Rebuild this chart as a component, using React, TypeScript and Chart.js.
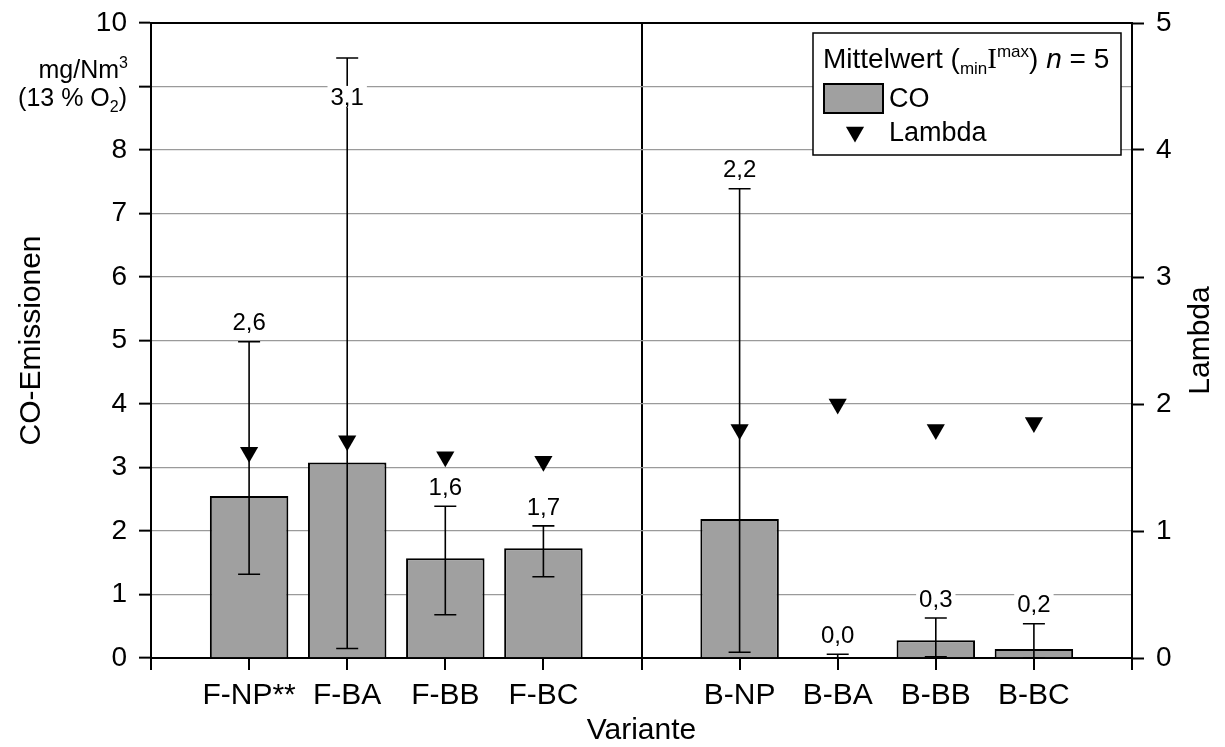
import React, { useEffect, useRef } from "react";
import { Chart, registerables } from "chart.js";

Chart.register(...registerables);

// ---------- data ----------
const categories = ["", "F-NP**", "F-BA", "F-BB", "F-BC", "", "B-NP", "B-BA", "B-BB", "B-BC", ""];
const coMean = [null, 2.55, 3.08, 1.57, 1.73, null, 2.19, 0.01, 0.28, 0.14, null];
const coMin = [null, 1.32, 0.15, 0.68, 1.28, null, 0.09, 0.0, 0.02, 0.0, null];
const coMax = [null, 4.98, 9.45, 2.39, 2.08, null, 7.39, 0.06, 0.63, 0.54, null];
const coLabels = [null, "2,6", "3,1", "1,6", "1,7", null, "2,2", "0,0", "0,3", "0,2", null];
const lambda = [null, 1.62, 1.71, 1.585, 1.55, null, 1.80, 2.0, 1.80, 1.855, null];
const separatorIndex = 5;
const hiddenLeftTick = 9;

const FONT = "'Liberation Sans', Arial, sans-serif";
const BAR_FILL = "#a0a0a0";
const GRID = "#9a9a9a";

const errorBarPlugin = {
  id: "errorBars",
  afterDatasetsDraw(chart: any) {
    const { ctx } = chart;
    const x = chart.scales.x;
    const y = chart.scales.y;
    ctx.save();
    ctx.strokeStyle = "#000";
    ctx.lineWidth = 1.6;
    const cap = 11;
    coMax.forEach((mx, i) => {
      if (mx == null) return;
      const px = x.getPixelForValue(i);
      const yMax = y.getPixelForValue(mx);
      const yMin = y.getPixelForValue(coMin[i] as number);
      ctx.beginPath();
      ctx.moveTo(px, yMax);
      ctx.lineTo(px, yMin);
      ctx.moveTo(px - cap, yMax);
      ctx.lineTo(px + cap, yMax);
      ctx.moveTo(px - cap, yMin);
      ctx.lineTo(px + cap, yMin);
      ctx.stroke();
    });
    ctx.font = `24px ${FONT}`;
    ctx.textAlign = "center";
    ctx.textBaseline = "middle";
    coLabels.forEach((lab, i) => {
      if (!lab) return;
      const px = x.getPixelForValue(i);
      const mx = coMax[i] as number;
      const yMax = y.getPixelForValue(mx);
      const cy = mx > 9 ? yMax + 39 : yMax - 19;
      const w = ctx.measureText(lab).width;
      ctx.fillStyle = "#fff";
      ctx.fillRect(px - w / 2 - 3, cy - 11, w + 6, 22);
      ctx.fillStyle = "#000";
      ctx.fillText(lab, px, cy + 1);
    });
    ctx.restore();
  },
};

function drawRich(ctx: any, parts: any[], x: number, y: number, align: "left" | "right") {
  const widths = parts.map((p) => {
    ctx.font = `${p.italic ? "italic " : ""}${p.size}px ${p.family || FONT}`;
    return ctx.measureText(p.text).width;
  });
  const total = widths.reduce((a, b) => a + b, 0);
  let cx = align === "right" ? x - total : x;
  ctx.textAlign = "left";
  ctx.textBaseline = "alphabetic";
  parts.forEach((p, k) => {
    ctx.font = `${p.italic ? "italic " : ""}${p.size}px ${p.family || FONT}`;
    ctx.fillText(p.text, cx, y + (p.dy || 0));
    cx += widths[k];
  });
}

const decorPlugin = {
  id: "decor",
  afterDraw(chart: any) {
    const { ctx, chartArea } = chart;
    ctx.save();
    // top frame
    ctx.strokeStyle = "#000";
    ctx.lineWidth = 2;
    ctx.beginPath();
    ctx.moveTo(chartArea.left - 1, chartArea.top);
    ctx.lineTo(chartArea.right + 1, chartArea.top);
    ctx.stroke();

    ctx.fillStyle = "#000";
    // unit label
    drawRich(ctx, [
      { text: "mg/Nm", size: 25 },
      { text: "3", size: 16, dy: -10 },
    ], 128, 78, "right");
    drawRich(ctx, [
      { text: "(13 % O", size: 25 },
      { text: "2", size: 16, dy: 6 },
      { text: ")", size: 25 },
    ], 127, 106, "right");

    // right axis title
    ctx.save();
    ctx.translate(1201, chartArea.top + (chartArea.bottom - chartArea.top) / 2);
    ctx.rotate(-Math.PI / 2);
    ctx.font = `30px ${FONT}`;
    ctx.textAlign = "center";
    ctx.textBaseline = "middle";
    ctx.fillText("Lambda", 0, 0);
    ctx.restore();

    // legend box
    const lx = 813, ly = 33, lw = 308, lh = 122;
    ctx.fillStyle = "#fff";
    ctx.fillRect(lx, ly, lw, lh);
    ctx.strokeStyle = "#000";
    ctx.lineWidth = 1.5;
    ctx.strokeRect(lx, ly, lw, lh);
    ctx.fillStyle = "#000";
    drawRich(ctx, [
      { text: "Mittelwert (", size: 28 },
      { text: "min", size: 17, dy: 6 },
      { text: "I", size: 29, family: "'Liberation Serif', serif" },
      { text: "max", size: 17, dy: -11 },
      { text: ") ", size: 28 },
      { text: "n", size: 28, italic: true },
      { text: " = 5", size: 28 },
    ], 823, 68, "left");
    // CO swatch
    ctx.fillStyle = BAR_FILL;
    ctx.fillRect(824, 84, 59, 29);
    ctx.strokeStyle = "#000";
    ctx.lineWidth = 2;
    ctx.strokeRect(824, 84, 59, 29);
    ctx.fillStyle = "#000";
    ctx.font = `27px ${FONT}`;
    ctx.textAlign = "left";
    ctx.textBaseline = "alphabetic";
    ctx.fillText("CO", 889, 107);
    // Lambda marker
    const tx = 855, ty = 132, r = 10.5;
    ctx.beginPath();
    for (let k = 0; k < 3; k++) {
      const a = Math.PI + (k * 2 * Math.PI) / 3;
      const px = tx + Math.sin(a) * r;
      const py = ty - Math.cos(a) * r;
      if (k === 0) ctx.moveTo(px, py);
      else ctx.lineTo(px, py);
    }
    ctx.closePath();
    ctx.fill();
    ctx.fillText("Lambda", 889, 141);
    ctx.restore();
  },
};

export default function App() {
  const canvasRef = useRef<HTMLCanvasElement | null>(null);

  useEffect(() => {
    if (!canvasRef.current) return;
    const chart = new Chart(canvasRef.current, {
      type: "bar",
      data: {
        labels: categories,
        datasets: [
          {
            type: "line",
            label: "Lambda",
            data: lambda as any,
            yAxisID: "y2",
            showLine: false,
            pointStyle: "triangle",
            rotation: 180,
            pointRadius: 10.5,
            pointHoverRadius: 10.5,
            backgroundColor: "#000",
            borderColor: "#000",
            pointBorderWidth: 0,
            order: 1,
          } as any,
          {
            type: "bar",
            label: "CO",
            data: coMean as any,
            yAxisID: "y",
            backgroundColor: BAR_FILL,
            borderColor: "#000",
            borderWidth: 2,
            categoryPercentage: 0.8,
            barPercentage: 1,
            order: 2,
          } as any,
        ],
      },
      options: {
        animation: false,
        responsive: true,
        maintainAspectRatio: false,
        layout: { padding: { top: 23, left: 0, right: 0, bottom: 0 } },
        plugins: {
          legend: { display: false },
          tooltip: { enabled: false },
        },
        scales: {
          x: {
            type: "category",
            offset: false,
            grid: {
              offset: false,
              color: (c: any) => (c.index === separatorIndex ? "#000" : "rgba(0,0,0,0)"),
              lineWidth: 2,
              tickColor: "#000",
              tickLength: 12,
              tickWidth: 2,
              drawTicks: true,
            },
            border: { color: "#000", width: 2 },
            ticks: {
              autoSkip: false,
              maxRotation: 0,
              minRotation: 0,
              color: "#000",
              padding: 8,
              font: { family: FONT, size: 30 },
            },
            title: {
              display: true,
              text: "Variante",
              color: "#000",
              font: { family: FONT, size: 30, lineHeight: 1 },
              padding: { top: 0, bottom: 1 },
            },
            afterFit: (s: any) => {
              s.height = 89;
              s.paddingLeft = 0;
              s.paddingRight = 0;
            },
          },
          y: {
            type: "linear",
            position: "left",
            min: 0,
            max: 10,
            grid: {
              color: (c: any) =>
                c.tick && (c.tick.value === 0 || c.tick.value === 10) ? "rgba(0,0,0,0)" : GRID,
              lineWidth: 1.3,
              tickColor: "#000",
              tickLength: 12,
              tickWidth: 2,
            },
            border: { color: "#000", width: 2 },
            ticks: {
              stepSize: 1,
              color: "#000",
              padding: 12,
              font: { family: FONT, size: 28 },
              callback: (v: any) => (v === hiddenLeftTick ? "" : String(v)),
            },
            title: {
              display: true,
              text: "CO-Emissionen",
              color: "#000",
              font: { family: FONT, size: 30, lineHeight: 1 },
              padding: { top: 17, bottom: 0 },
            },
            afterFit: (s: any) => {
              s.width = 151;
              s.paddingTop = 0;
              s.paddingBottom = 0;
            },
          },
          y2: {
            type: "linear",
            position: "right",
            min: 0,
            max: 5,
            grid: {
              drawOnChartArea: false,
              tickColor: "#000",
              tickLength: 12,
              tickWidth: 2,
            },
            border: { color: "#000", width: 2 },
            ticks: {
              stepSize: 1,
              color: "#000",
              padding: 12,
              font: { family: FONT, size: 28 },
            },
            afterFit: (s: any) => {
              s.width = 93;
              s.paddingTop = 0;
              s.paddingBottom = 0;
            },
          },
        },
      } as any,
      plugins: [errorBarPlugin, decorPlugin],
    });
    return () => chart.destroy();
  }, []);

  return (
    <div style={{ position: "absolute", left: 0, top: 0, width: 1225, height: 747, background: "#fff" }}>
      <canvas ref={canvasRef} />
    </div>
  );
}
